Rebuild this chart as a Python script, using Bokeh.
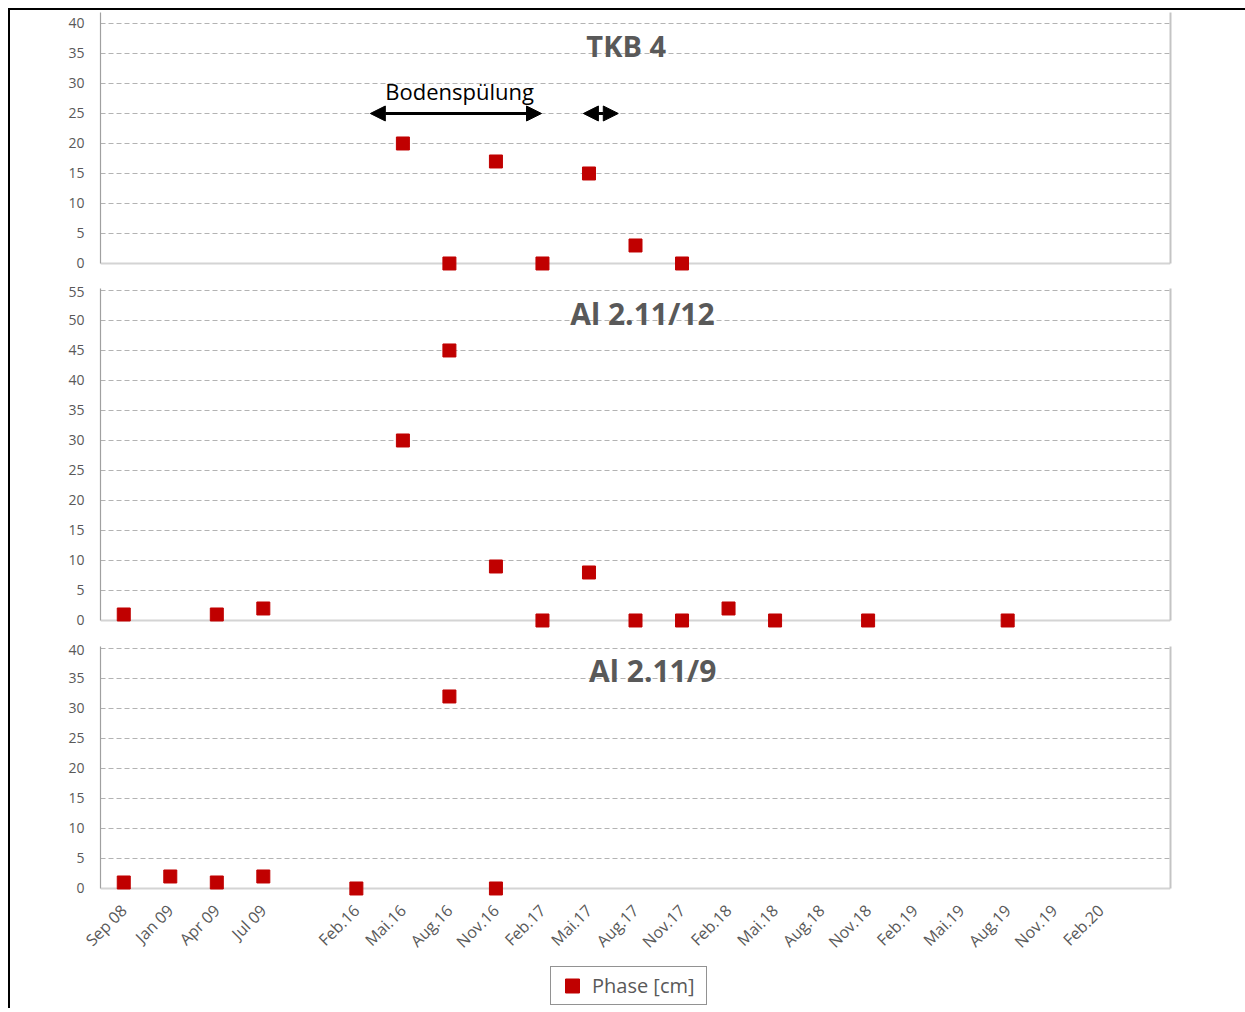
import math
from bokeh.plotting import figure
from bokeh.layouts import column
from bokeh.models import (FixedTicker, Label, Arrow, NormalHead, Legend, LegendItem,
                          ColumnDataSource, Range1d, LinearAxis, Span)
from bokeh.embed import file_html
from bokeh.resources import INLINE

# ---------------- data ----------------
categories = ["Sep 08", "Jan 09", "Apr 09", "Jul 09", "", "Feb.16", "Mai.16", "Aug.16",
              "Nov.16", "Feb.17", "Mai.17", "Aug.17", "Nov.17", "Feb.18", "Mai.18",
              "Aug.18", "Nov.18", "Feb.19", "Mai.19", "Aug.19", "Nov.19", "Feb.20", ""]

tkb4_dates = ["Mai.16", "Aug.16", "Nov.16", "Feb.17", "Mai.17", "Aug.17", "Nov.17"]
tkb4_values = [20, 0, 17, 0, 15, 3, 0]

al12_dates = ["Sep 08", "Apr 09", "Jul 09", "Mai.16", "Aug.16", "Nov.16", "Feb.17",
              "Mai.17", "Aug.17", "Nov.17", "Feb.18", "Mai.18", "Nov.18", "Aug.19"]
al12_values = [1, 1, 2, 30, 45, 9, 0, 8, 0, 0, 2, 0, 0, 0]

al9_dates = ["Sep 08", "Jan 09", "Apr 09", "Jul 09", "Feb.16", "Aug.16", "Nov.16"]
al9_values = [1, 2, 1, 2, 0, 32, 0]

panel_titles = ["TKB 4", "Al 2.11/12", "Al 2.11/9"]
panel_ymax = [40, 55, 40]
series_name = "Phase [cm]"
annotation_text = "Bodenspülung"

# ---------------- style ----------------
FONT = "Open Sans"
TICK_COLOR = "#595959"
RED = "#c00000"
FIG_W = 1235
MB_LEFT = 90
FRAME_W = 1070
MB_RIGHT = FIG_W - MB_LEFT - FRAME_W
YLOW = -1.5  # a little room below zero so the zero markers are not cut

tick_idx = [i for i, c in enumerate(categories) if c]
overrides = {i: categories[i] for i in tick_idx}


def idx(dates):
    return [categories.index(d) for d in dates]


def make_panel(dates, values, ymax, ytop, title, tx, ty, tsize, frame_h, mb_bottom, show_x):
    h = 2 + frame_h + mb_bottom
    p = figure(width=FIG_W, height=h, output_backend="svg", toolbar_location=None,
               x_range=Range1d(-0.5, len(categories) - 0.5), y_range=Range1d(YLOW, ytop),
               min_border_left=MB_LEFT, min_border_right=MB_RIGHT,
               min_border_top=2, min_border_bottom=mb_bottom,
               background_fill_color="white", border_fill_color="white")
    p.outline_line_color = None
    p.xgrid.visible = False
    p.ygrid.grid_line_color = "#b3b3b3"
    p.ygrid.grid_line_dash = "5 3"
    p.ygrid.grid_line_width = 1
    p.ygrid.ticker = FixedTicker(ticks=list(range(5, ymax + 1, 5)))

    ya = p.yaxis[0]
    ya.ticker = FixedTicker(ticks=list(range(0, ymax + 1, 5)))
    ya.bounds = (0, ytop)
    ya.axis_line_color = "#a0a0a0"
    ya.axis_line_width = 1.2
    ya.major_tick_line_color = None
    ya.minor_tick_line_color = None
    ya.major_tick_out = 0
    ya.major_tick_in = 0
    ya.major_label_standoff = 16
    ya.major_label_text_font = FONT
    ya.major_label_text_font_size = "14px"
    ya.major_label_text_color = TICK_COLOR

    xa = p.xaxis[0]
    if show_x:
        xa.axis_line_color = None
        xa.major_tick_line_color = None
        xa.minor_tick_line_color = None
        xa.major_tick_out = 0
        xa.major_tick_in = 0
        xa.ticker = FixedTicker(ticks=tick_idx)
        xa.major_label_overrides = overrides
        xa.major_label_orientation = math.pi / 4
        xa.major_label_standoff = 10
        xa.major_label_text_font = FONT
        xa.major_label_text_font_size = "16px"
        xa.major_label_text_color = TICK_COLOR
    else:
        xa.visible = False

    ra = LinearAxis(ticker=FixedTicker(ticks=[]), axis_line_color="#c4c4c4",
                    axis_line_width=2, major_tick_line_color=None,
                    minor_tick_line_color=None, bounds=(0, ytop))
    p.add_layout(ra, "right")

    p.add_layout(Span(location=0, dimension="width", line_color="#d4d4d4",
                      line_width=2, level="underlay"))

    src = ColumnDataSource(dict(x=idx(dates), y=values))
    r = p.scatter("x", "y", source=src, marker="square", size=13,
                  fill_color=RED, line_color=RED)

    p.add_layout(Label(x=tx, y=ty, text=title, text_align="center",
                       text_baseline="middle", text_font=FONT,
                       text_font_style="bold", text_font_size=tsize,
                       text_color=TICK_COLOR))
    return p, r


# frame heights: 6 px per unit
p1, r1 = make_panel(tkb4_dates, tkb4_values, panel_ymax[0], 41.83, panel_titles[0],
                    10.8, 36.3, "29px", 260, 14, False)
p2, r2 = make_panel(al12_dates, al12_values, panel_ymax[1], 55.33, panel_titles[1],
                    11.15, 51.2, "30px", 341, 15, False)
p3, r3 = make_panel(al9_dates, al9_values, panel_ymax[2], 40.33, panel_titles[2],
                    11.37, 36.3, "30px", 251, 66, True)

# annotation arrows in panel 1
def head():
    return NormalHead(size=15, fill_color="black", line_color="black", line_width=1)

p1.add_layout(Arrow(x_start=5.3, y_start=25, x_end=8.98, y_end=25,
                    line_width=3, line_color="black", start=head(), end=head()))
p1.add_layout(Arrow(x_start=9.88, y_start=25, x_end=10.63, y_end=25,
                    line_width=3, line_color="black", start=head(), end=head()))
p1.add_layout(Label(x=7.22, y=28.7, text=annotation_text, text_align="center",
                    text_baseline="middle", text_font=FONT, text_font_size="22px",
                    text_color="black"))

# legend figure
pl = figure(width=FIG_W, height=45, output_backend="svg", toolbar_location=None,
            x_range=Range1d(0, 1), y_range=Range1d(0, 1),
            x_axis_location=None, y_axis_location=None,
            min_border_left=MB_LEFT, min_border_right=MB_RIGHT,
            min_border_top=0, min_border_bottom=0)
pl.outline_line_color = None
pl.grid.visible = False
lsrc = ColumnDataSource(dict(x=[float("nan")], y=[float("nan")]))
lr = pl.scatter("x", "y", source=lsrc, marker="square", size=13,
                fill_color=RED, line_color=RED)
leg = Legend(items=[LegendItem(label=series_name, renderers=[lr])],
             location=(450, 3), orientation="horizontal", margin=0,
             glyph_width=40, glyph_height=35, padding=1, label_standoff=0,
             label_width=113,
             label_text_font=FONT, label_text_font_size="20px",
             label_text_color=TICK_COLOR, label_height=35,
             border_line_color="#262626", border_line_width=1.2,
             background_fill_alpha=1.0)
pl.add_layout(leg, "center")

layout = column(p1, p2, p3, pl, spacing=0, margin=(8, 0, 0, 8),
                styles={"border-left": "2px solid black", "border-top": "2px solid black"})

open("out.html", "w").write(file_html(layout, INLINE))
